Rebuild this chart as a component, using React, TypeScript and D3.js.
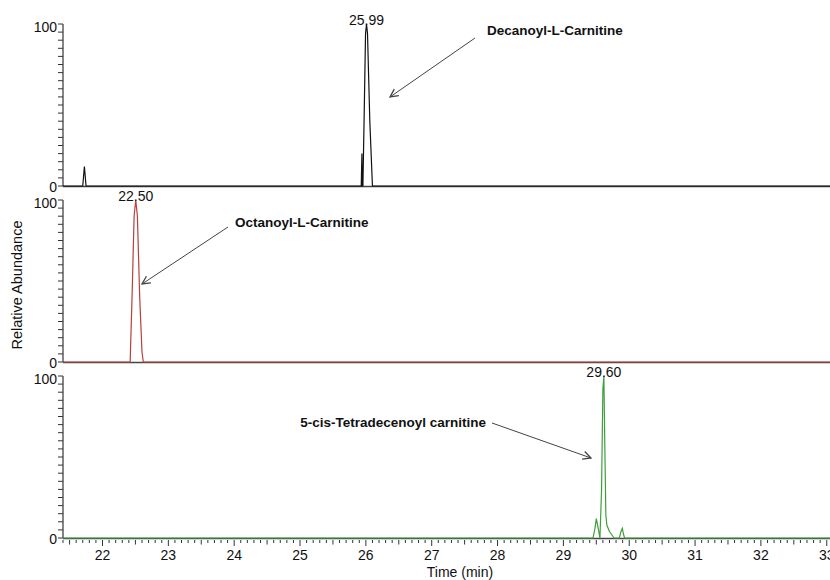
import React from 'react';
import * as d3 from 'd3';

// chromatogram traces: [time (min), relative abundance]
const decanoylTrace: [number, number][] = [
  [21.4, 0], [21.7, 0], [21.725, 12], [21.75, 0],
  [25.93, 0], [25.94, 20], [25.945, 0], [25.955, 0], [25.975, 45], [25.995, 94],
  [26.01, 100], [26.025, 94], [26.06, 40], [26.1, 0], [33.1, 0],
];
const octanoylTrace: [number, number][] = [
  [21.4, 0], [22.42, 0], [22.45, 42], [22.48, 90], [22.505, 100], [22.53, 90],
  [22.565, 40], [22.6, 6], [22.62, 0], [33.1, 0],
];
const tetradecenoylTrace: [number, number][] = [
  [21.4, 0], [29.45, 0], [29.48, 6], [29.5, 12], [29.52, 8], [29.555, 0],
  [29.58, 30], [29.6, 92], [29.615, 100], [29.63, 55], [29.645, 14], [29.66, 8],
  [29.7, 4], [29.77, 0], [29.85, 0], [29.875, 4], [29.895, 6], [29.915, 2],
  [29.93, 0], [33.1, 0],
];

const traceNames = ['Decanoyl-L-Carnitine', 'Octanoyl-L-Carnitine', '5-cis-Tetradecenoyl carnitine'];
const traceColors = ['#111111', '#b9403f', '#3da03a'];
const peakLabels = ['25.99', '22.50', '29.60'];
const peakTimes = [26.01, 22.505, 29.615];
const xTicks = [22, 23, 24, 25, 26, 27, 28, 29, 30, 31, 32, 33];
const yTickLabels = ['0', '100'];

const width = 830;
const height = 580;
const left = 63;
const panelTops = [24, 200, 376];
const panelH = 163;

// annotation placement: text pos, arrow from -> to
const notes = [
  { tx: 487, ty: 35, x1: 475, y1: 38, x2: 390, y2: 97 },
  { tx: 235, ty: 227, x1: 228, y1: 227, x2: 142, y2: 284 },
  { tx: 486, ty: 427, x1: 492, y1: 423, x2: 591, y2: 458, anchor: 'end' },
];

const App = () => {
  const x = d3.scaleLinear().domain([21.4, 21.4 + (width - left) / 65.84]).range([left, width]);
  const traces = [decanoylTrace, octanoylTrace, tetradecenoylTrace];
  const font = 'Liberation Sans, Arial, sans-serif';
  const minorTicks = d3.range(214, 331).map(d => d / 10);

  return (
    <svg width={width} height={height} style={{ position: 'absolute', left: 0, top: 0 }}>
      <defs>
        <marker id="arr" viewBox="0 0 10 10" refX="9" refY="5" markerWidth="10" markerHeight="10" orient="auto">
          <path d="M1,1 L9,5 L1,9" fill="none" stroke="#444" strokeWidth="1.3" />
        </marker>
      </defs>
      <rect width={width} height={height} fill="#fff" />
      {traces.map((data, i) => {
        const top = panelTops[i];
        const y = d3.scaleLinear().domain([0, 100]).range([top + panelH - 1, top]);
        const line = d3.line<[number, number]>().x(d => x(d[0])).y(d => y(d[1]));
        const yMinor = d3.range(0, 101, 5);
        return (
          <g key={i}>
            {yMinor.map(v => (
              <line key={v} x1={left - 5} x2={left} y1={y(v)} y2={y(v)} stroke="#333" strokeWidth={1} />
            ))}
            <line x1={left} x2={left} y1={y(100)} y2={y(0)} stroke="#333" strokeWidth={1.2} />
            <line x1={left} x2={width} y1={y(0) + 0.5} y2={y(0) + 0.5} stroke="#444" strokeWidth={1.5} />
            {yTickLabels.map(t => (
              <text key={t} x={left - 6} y={y(+t) + (t === '0' ? 6 : 8)} textAnchor="end" fontFamily={font} fontSize={14} fill="#111">{t}</text>
            ))}
            <path d={line(data) || ''} fill="none" stroke={traceColors[i]} strokeWidth={1.2} />
            <text x={x(peakTimes[i])} y={y(100) + 1} textAnchor="middle" fontFamily={font} fontSize={14} fill="#111">{peakLabels[i]}</text>
            <text x={notes[i].tx} y={notes[i].ty} textAnchor={notes[i].anchor || 'start'} fontFamily={font} fontSize={13.5} fontWeight="bold" fill="#111">{traceNames[i]}</text>
            <line x1={notes[i].x1} y1={notes[i].y1} x2={notes[i].x2} y2={notes[i].y2} stroke="#444" strokeWidth={1} markerEnd="url(#arr)" />
          </g>
        );
      })}
      {minorTicks.map(t => {
        const isMajor = Math.abs(t - Math.round(t)) < 1e-6;
        const isHalf = Math.abs(t * 2 - Math.round(t * 2)) < 1e-6;
        const len = isMajor ? 6 : isHalf ? 4.5 : 3;
        return <line key={t} x1={x(t)} x2={x(t)} y1={540} y2={540 + len} stroke="#333" strokeWidth={1} />;
      })}
      {xTicks.map(t => (
        <text key={t} x={x(t)} y={560} textAnchor="middle" fontFamily={font} fontSize={14} fill="#111">{t}</text>
      ))}
      <text x={460} y={577} textAnchor="middle" fontFamily={font} fontSize={14} fill="#111">Time (min)</text>
      <text transform="translate(22,285) rotate(-90)" textAnchor="middle" fontFamily={font} fontSize={14.5} fill="#111">Relative Abundance</text>
    </svg>
  );
};

export default App;
